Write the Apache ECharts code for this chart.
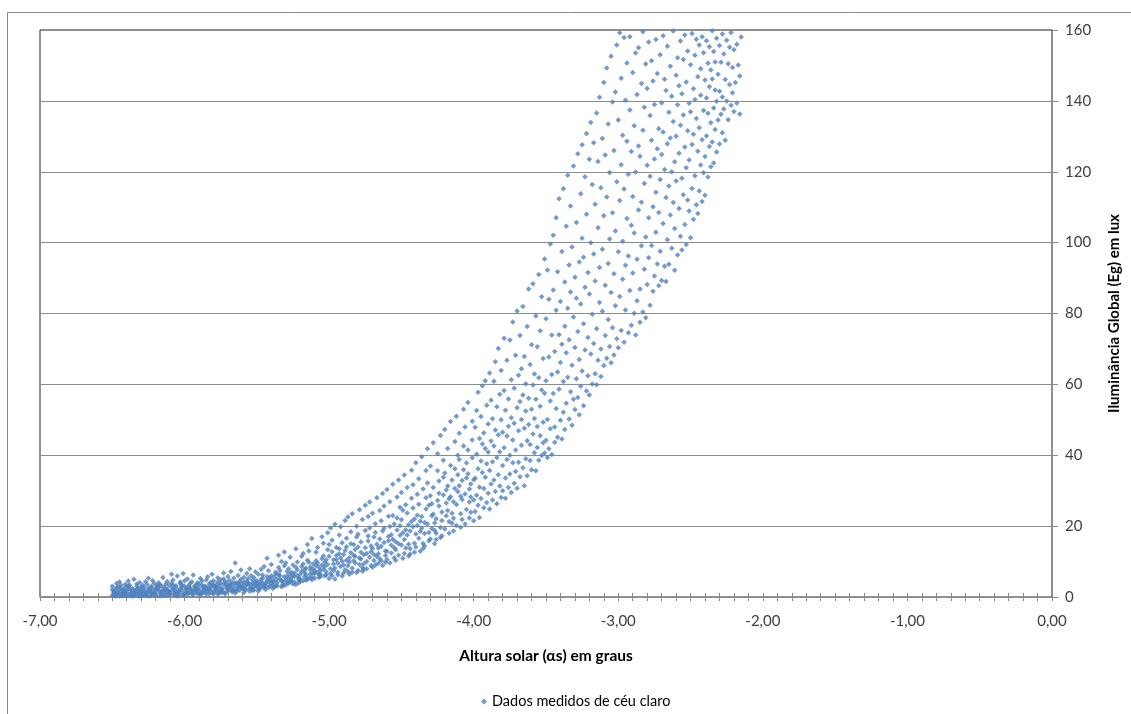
<!DOCTYPE html>
<html><head><meta charset="utf-8">
<script src="https://cdn.jsdelivr.net/npm/echarts@6/dist/echarts.min.js"></script>
<style>html,body{margin:0;padding:0;background:#fff}#c{width:1131px;height:714px}</style>
</head><body><div id="c"></div>
<script>
// Each entry: [altura solar (graus), [iluminâncias lidas (lux)]]
const faixaA = [
[-6.50,[0.4,2.1,3.0]],[-6.49,[1.2,0.8,1.6]],[-6.48,[0.2,1.0,1.9]],[-6.47,[2.6,3.8,0.6]],[-6.46,[1.4,2.9,1.1]],[-6.45,[0.3,4.2,2.2]],
[-6.44,[0.7,3.3,2.5]],[-6.43,[1.8,0.2,1.3]],[-6.42,[2.0,1.5,0.9]],[-6.41,[0.5,3.6,2.8]],[-6.40,[1.1,0.3,1.7]],[-6.39,[2.4,4.5,3.1]],
[-6.38,[0.6,2.7,3.4]],[-6.37,[1.9,0.4,1.2]],[-6.36,[2.3,1.4,0.2]],[-6.35,[0.8,5.0,2.0]],[-6.34,[1.6,0.5,1.0]],[-6.33,[3.0,2.2,3.7]],
[-6.32,[0.3,2.5,0.9]],[-6.31,[1.3,4.1,1.8]],[-6.30,[2.8,1.5,0.2]],[-6.29,[0.7,3.3,2.1]],[-6.28,[1.0,2.0,2.7]],[-6.27,[4.3,0.5,1.4]],
[-6.26,[0.4,3.5,1.1]],[-6.25,[1.7,2.4,5.3]],[-6.24,[2.1,0.3,1.6]],[-6.23,[0.9,3.0,2.6]],[-6.22,[1.3,0.6,4.6]],[-6.21,[3.8,2.2,1.0]],
[-6.20,[0.5,1.8,0.9]],[-6.19,[2.4,3.2,2.9]],[-6.18,[1.9,4.0,2.6]],[-6.17,[0.3,1.2,3.5]],[-6.16,[0.8,1.4,3.1]],[-6.15,[2.0,5.5,0.4]],
[-6.14,[2.7,0.6,1.9]],[-6.13,[1.1,3.7,2.3]],[-6.12,[0.4,2.1,4.4]],[-6.11,[3.3,1.5,0.9]],[-6.10,[1.6,0.7,1.2]],[-6.09,[2.8,3.9,6.4]],
[-6.08,[2.2,3.4,4.8]],[-6.07,[0.5,1.8,1.0]],[-6.06,[0.9,2.6,3.2]],[-6.05,[1.5,5.9,0.3]],[-6.04,[1.7,0.6,1.2]],[-6.03,[3.8,2.3,4.2]],
[-6.02,[2.9,2.0,3.5]],[-6.01,[1.0,0.5,6.6]],[-6.00,[0.8,4.6,3.0]],[-5.99,[2.5,1.4,2.1]],[-5.98,[1.5,0.7,5.1]],[-5.97,[3.3,2.7,1.1]],
[-5.96,[2.2,3.9,2.5]],[-5.95,[0.9,1.7,4.3]],[-5.94,[0.6,1.3,6.2]],[-5.93,[2.0,3.1,2.8]],[-5.92,[1.8,2.4,3.4]],[-5.91,[4.0,0.9,1.2]],
[-5.90,[2.6,3.7,1.9]],[-5.89,[1.1,5.2,0.7]],[-5.88,[1.0,4.5,3.3]],[-5.87,[2.9,2.2,1.6]],[-5.86,[3.1,2.0,1.4]],[-5.85,[0.8,4.8,2.6]],
[-5.84,[1.5,2.5,5.7]],[-5.83,[3.6,0.9,2.1]],[-5.82,[2.8,4.1,1.9]],[-5.81,[1.2,3.2,6.4]],[-5.80,[0.9,3.5,4.6]],[-5.79,[2.3,1.6,2.9]],
[-5.78,[1.8,2.7,3.4]],[-5.77,[4.2,0.8,5.4]],[-5.76,[3.0,2.2,1.1]],[-5.75,[1.5,4.9,3.8]],[-5.74,[2.4,1.3,2.0]],[-5.73,[5.1,3.6,6.8]],
[-5.72,[1.2,4.4,0.9]],[-5.71,[3.2,2.6,3.9]],[-5.70,[2.1,1.6,5.8]],[-5.69,[4.7,3.3,2.8]],[-5.68,[3.5,2.5,7.2]],[-5.67,[1.4,4.1,1.9]],
[-5.66,[2.0,5.3,3.0]],[-5.65,[3.9,1.1,9.6]],[-5.64,[1.6,4.0,2.3]],[-5.63,[2.8,6.1,3.6]],[-5.62,[3.3,1.9,4.4]],[-5.61,[5.0,2.7,7.6]],
[-5.60,[2.4,3.8,2.9]],[-5.59,[1.3,5.6,4.2]],[-5.58,[1.9,3.1,2.2]],[-5.57,[4.5,6.6,3.5]],[-5.56,[3.7,5.2,4.0]],[-5.55,[2.5,1.6,8.0]],
[-5.54,[2.6,3.3,6.0]],[-5.53,[4.8,1.8,3.9]],[-5.52,[2.0,5.5,2.8]],[-5.51,[3.6,4.3,7.1]]
];
const faixaB = [
[-5.50,[3.1,4.6,3.7]],[-5.49,[1.7,6.4,2.4]],[-5.48,[2.3,3.5,4.2]],[-5.47,[5.0,7.8,2.9]],[-5.46,[4.0,6.2,5.3]],[-5.45,[2.6,3.2,8.6]],
[-5.44,[3.3,2.1,3.9]],[-5.43,[4.7,5.8,10.9]],[-5.42,[2.7,4.2,7.4]],[-5.41,[5.4,3.1,4.8]],[-5.40,[3.8,6.0,9.2]],[-5.39,[2.4,4.5,3.3]],
[-5.38,[4.4,5.6,2.8]],[-5.37,[3.0,7.0,6.5]],[-5.36,[3.2,4.0,5.1]],[-5.35,[6.3,8.3,11.8]],[-5.34,[5.0,7.5,6.1]],[-5.33,[2.9,4.6,10.0]],
[-5.32,[3.6,4.3,3.1]],[-5.31,[5.7,8.8,12.7]],[-5.30,[4.8,3.4,9.6]],[-5.29,[7.2,5.9,4.1]],[-5.28,[3.9,5.2,8.0]],[-5.27,[6.5,4.4,11.2]],
[-5.26,[5.5,7.0,4.6]],[-5.25,[3.7,6.1,9.0]],[-5.24,[4.2,5.8,6.8]],[-5.23,[8.4,3.5,13.6]],[-5.22,[6.0,7.7,9.9]],[-5.21,[4.9,5.3,4.0]],
[-5.20,[5.1,4.4,6.4]],[-5.19,[7.3,11.5,8.6]],[-5.18,[4.6,9.3,12.3]],[-5.17,[6.9,5.7,7.8]],[-5.16,[6.3,8.1,4.7]],[-5.15,[5.0,10.4,14.8]],
[-5.14,[5.4,9.8,13.0]],[-5.13,[7.6,6.5,8.5]],[-5.12,[4.9,16.5,5.6]],[-5.11,[6.8,8.0,9.4]],[-5.10,[6.6,5.3,7.4]],[-5.09,[8.9,12.6,10.2]],
[-5.08,[7.0,9.6,14.0]],[-5.07,[5.5,6.2,8.3]],[-5.06,[5.8,7.5,6.4]],[-5.05,[10.8,9.0,17.0]],[-5.04,[7.8,11.6,15.2]],[-5.03,[6.0,8.6,9.8]],
[-5.02,[6.2,7.1,10.5]],[-5.01,[9.2,13.3,18.1]],[-5.00,[5.2,11.5,14.8]],[-4.99,[8.0,6.6,19.5]],[-4.98,[6.0,12.8,16.0]],[-4.97,[9.3,7.4,10.5]],
[-4.96,[5.1,8.2,20.5]],[-4.95,[10.6,14.0,11.7]],[-4.94,[7.0,9.5,6.3]],[-4.93,[12.2,17.5,13.6]],[-4.92,[8.6,11.0,19.8]],[-4.91,[5.9,15.3,10.1]],
[-4.90,[6.8,9.0,12.0]],[-4.89,[13.1,21.6,7.7]],[-4.88,[10.4,16.6,14.2]],[-4.87,[7.2,8.8,22.6]],[-4.86,[6.4,9.9,11.1]],[-4.85,[12.5,18.4,15.0]],
[-4.84,[8.1,7.0,23.5]],[-4.83,[14.8,11.8,10.2]],[-4.82,[9.6,13.4,11.5]],[-4.81,[6.9,20.0,16.9]],[-4.80,[7.5,17.7,14.1]],[-4.79,[11.0,9.2,24.6]],
[-4.78,[12.6,15.5,10.7]],[-4.77,[8.3,21.9,7.3]],[-4.76,[9.4,7.8,11.9]],[-4.75,[13.9,18.8,25.9]],[-4.74,[8.0,12.3,10.0]],[-4.73,[15.8,22.7,17.2]],
[-4.72,[11.2,19.5,26.8]],[-4.71,[8.9,14.4,12.8]],[-4.70,[13.7,8.4,23.6]],[-4.69,[10.3,16.9,12.0]],[-4.68,[9.0,20.7,18.2]],[-4.67,[14.9,11.4,28.0]],
[-4.66,[12.2,9.5,13.8]],[-4.65,[16.4,24.4,10.8]],[-4.64,[10.2,14.3,21.5]],[-4.63,[18.6,8.9,29.2]],[-4.62,[15.4,25.7,19.4]],[-4.61,[11.7,13.0,9.8]],
[-4.60,[12.9,10.6,30.3]],[-4.59,[17.1,22.8,15.9]],[-4.58,[9.6,19.9,26.9]],[-4.57,[14.6,12.4,17.6]],[-4.56,[16.3,23.0,31.8]],[-4.55,[11.1,13.9,20.6]],
[-4.54,[13.3,10.4,15.6]],[-4.53,[18.9,28.2,22.3]],[-4.52,[11.8,15.0,33.0]],[-4.51,[20.1,25.3,17.4]]
];
const faixaC = [
[-4.50,[14.7,21.8,29.5]],[-4.49,[10.9,18.1,24.5]],[-4.48,[12.3,16.2,34.4]],[-4.47,[19.0,26.0,13.8]],[-4.46,[17.5,23.7,30.9]],[-4.45,[11.6,20.4,14.9]],
[-4.44,[13.6,18.6,12.1]],[-4.43,[21.3,27.9,35.8]],[-4.42,[19.8,25.1,31.7]],[-4.41,[15.2,12.6,22.0]],[-4.40,[14.1,17.8,37.9]],[-4.39,[23.1,29.0,20.2]],
[-4.38,[16.6,26.2,33.4]],[-4.37,[12.9,21.4,18.5]],[-4.36,[22.7,19.4,39.6]],[-4.35,[15.1,30.5,13.7]],[-4.34,[17.9,14.4,21.0]],[-4.33,[24.8,28.0,35.7]],
[-4.32,[20.6,32.2,41.8]],[-4.31,[15.9,25.9,18.2]],[-4.30,[16.4,28.6,37.0]],[-4.29,[22.9,19.3,26.3]],[-4.28,[23.4,30.9,43.5]],[-4.27,[15.0,20.9,18.8]],
[-4.26,[18.0,22.1,16.2]],[-4.25,[27.2,35.6,40.4]],[-4.24,[25.7,32.7,29.3]],[-4.23,[19.6,16.8,45.6]],[-4.22,[21.6,17.3,24.0]],[-4.21,[28.8,38.6,33.8]],
[-4.20,[19.2,35.0,47.3]],[-4.19,[26.5,22.9,30.2]],[-4.18,[24.4,31.3,41.9]],[-4.17,[18.0,27.7,21.3]],[-4.16,[28.3,37.1,49.5]],[-4.15,[20.8,23.6,33.0]],
[-4.14,[22.2,18.6,26.9]],[-4.13,[30.6,43.9,36.2]],[-4.12,[26.1,20.2,51.0]],[-4.11,[34.5,29.8,40.0]],[-4.10,[31.4,38.8,46.2]],[-4.09,[23.5,19.7,28.4]],
[-4.08,[21.9,27.5,32.9]],[-4.07,[35.9,42.6,53.0]],[-4.06,[29.1,48.0,20.6]],[-4.05,[24.7,37.8,33.6]],[-4.04,[34.8,41.5,54.9]],[-4.03,[26.8,22.3,30.5]],
[-4.02,[23.9,31.9,28.2]],[-4.01,[39.3,49.6,44.3]],[-4.00,[27.4,21.5,33.1]],
[-3.99,[33.5,47.9,24.1]],[-3.98,[52.6,28.7,40.3]],[-3.97,[36.2,57.8,25.9]],[-3.96,[44.7,31.0,22.4]],[-3.95,[27.8,50.9,38.4]],[-3.94,[59.6,35.1,43.2]],
[-3.93,[30.6,46.3,25.2]],[-3.92,[41.9,61.0,33.8]],[-3.91,[26.7,37.6,54.1]],[-3.90,[48.8,29.3,40.9]],[-3.89,[35.7,63.2,24.8]],[-3.88,[44.0,31.9,55.5]],
[-3.87,[27.4,50.3,38.2]],[-3.86,[60.9,42.6,33.0]],[-3.85,[29.8,47.1,66.4]],[-3.84,[39.4,26.3,53.7]],[-3.83,[45.8,70.1,34.5]],[-3.82,[31.3,57.2,41.0]],
[-3.81,[50.0,28.1,63.9]],[-3.80,[37.1,46.5,30.0]],[-3.79,[58.3,42.1,73.0]],[-3.78,[33.6,52.7,27.9]],[-3.77,[45.4,66.8,38.8]],[-3.76,[30.9,55.9,48.2]],
[-3.75,[72.5,40.0,34.7]],[-3.74,[50.6,29.5,61.3]],[-3.73,[37.9,77.6,44.3]],[-3.72,[58.9,32.1,49.0]],[-3.71,[41.5,68.2,35.4]],[-3.70,[53.4,30.7,80.7]],
[-3.69,[46.9,62.6,38.0]],[-3.68,[33.9,55.2,73.8]],[-3.67,[64.4,42.8,50.1]],[-3.66,[36.5,82.0,57.0]],[-3.65,[47.6,31.4,67.9]],[-3.64,[60.2,39.0,52.5]],
[-3.63,[44.1,76.3,34.2]],[-3.62,[56.1,48.7,86.9]],[-3.61,[38.5,65.6,43.0]],[-3.60,[71.2,53.0,35.9]],[-3.59,[46.0,88.4,59.8]],[-3.58,[40.7,62.9,50.4]],
[-3.57,[79.3,35.6,55.8]],[-3.56,[48.1,70.6,42.2]],[-3.55,[61.9,38.6,91.0]],[-3.54,[53.8,45.5,75.1]],[-3.53,[39.9,84.7,58.4]],[-3.52,[67.3,49.3,43.5]],
[-3.51,[57.5,95.4,40.6]]
];
const faixaD = [
[-3.50,[44.2,78.5,61.0]],[-3.49,[92.3,50.1,39.4]],[-3.48,[67.7,41.8,84.0]],[-3.47,[55.3,99.6,47.5]],[-3.46,[73.9,40.2,62.8]],[-3.45,[102.1,57.4,86.6]],
[-3.44,[48.0,69.3,43.7]],[-3.43,[80.9,53.2,107.0]],[-3.42,[63.5,45.1,91.8]],[-3.41,[58.6,112.4,74.0]],[-3.40,[49.9,83.4,66.2]],[-3.39,[97.5,44.6,71.3]],
[-3.38,[60.8,115.2,52.1]],[-3.37,[76.4,88.9,47.3]],[-3.36,[54.7,104.6,68.9]],[-3.35,[119.0,62.0,81.5]],[-3.34,[50.2,93.7,72.6]],[-3.33,[86.1,57.9,110.3]],
[-3.32,[65.4,48.5,98.8]],[-3.31,[79.0,121.6,55.8]],[-3.30,[70.4,52.9,90.2]],[-3.29,[105.7,61.6,84.3]],[-3.28,[56.3,125.1,74.9]],[-3.27,[94.5,67.0,51.4]],
[-3.26,[82.7,113.8,59.5]],[-3.25,[63.8,101.2,127.6]],[-3.24,[77.1,54.0,95.9]],[-3.23,[118.6,69.7,87.4]],[-3.22,[58.1,108.0,130.8]],[-3.21,[91.6,73.2,62.4]],
[-3.20,[123.5,85.5,57.0]],[-3.19,[68.6,100.0,133.9]],[-3.18,[79.8,60.1,116.4]],[-3.17,[96.8,128.2,71.5]],[-3.16,[63.0,89.2,110.8]],[-3.15,[136.6,75.7,59.9]],
[-3.14,[104.2,66.8,122.9]],[-3.13,[83.1,141.0,93.0]],[-3.12,[70.0,115.5,62.2]],[-3.11,[129.4,98.1,80.6]],[-3.10,[65.3,145.2,107.6]],[-3.09,[88.0,73.8,124.7]],
[-3.08,[112.9,149.3,67.4]],[-3.07,[94.1,78.3,133.5]],[-3.06,[70.7,119.8,101.0]],[-3.05,[152.6,85.9,66.1]],[-3.04,[108.4,139.7,76.0]],[-3.03,[91.2,68.3,126.0]],
[-3.02,[142.5,103.3,82.2]],[-3.01,[72.9,117.2,155.8]],[-3.00,[97.4,134.6,70.3]],[-2.99,[84.8,159.2,111.9]],[-2.98,[122.0,75.2,146.4]],[-2.97,[100.4,130.3,89.7]],
[-2.96,[157.9,71.9,115.1]],[-2.95,[93.6,140.2,81.0]],[-2.94,[128.6,106.8,150.7]],[-2.93,[74.6,119.3,96.2]],[-2.92,[137.4,86.5,158.1]],[-2.91,[104.9,76.7,125.7]],
[-2.90,[148.0,113.0,91.4]],[-2.89,[80.1,133.0,102.7]],[-2.88,[119.9,153.5,73.9]],[-2.87,[95.3,83.6,141.8]],[-2.86,[155.0,109.2,127.3]],[-2.85,[86.9,124.4,77.5]],
[-2.84,[111.4,144.9,99.1]],[-2.83,[131.7,80.4,159.5]],[-2.82,[92.5,116.7,138.2]],[-2.81,[150.4,101.6,78.8]],[-2.80,[121.8,88.2,143.5]],[-2.79,[107.0,156.6,95.7]],
[-2.78,[135.9,82.3,118.7]],[-2.77,[99.2,128.9,151.3]],[-2.76,[145.6,110.1,86.3]],[-2.75,[90.6,139.0,123.6]],[-2.74,[157.3,102.9,114.2]],[-2.73,[126.5,94.0,147.7]],
[-2.72,[87.8,132.1,108.5]],[-2.71,[153.0,117.8,97.6]],[-2.70,[139.5,89.3,124.9]],[-2.69,[105.4,158.4,131.2]],[-2.68,[93.3,120.6,146.1]],[-2.67,[142.9,112.7,89.0]],
[-2.66,[127.9,155.4,100.8]],[-2.65,[116.0,93.9,136.8]],[-2.64,[149.8,107.8,129.5]],[-2.63,[98.4,141.3,120.0]],[-2.62,[134.2,159.7,111.3]],[-2.61,[104.0,122.8,92.2]],
[-2.60,[147.2,130.0,117.4]],[-2.59,[96.5,152.2,138.9]],[-2.58,[125.2,109.6,144.3]],[-2.57,[156.9,101.8,133.1]],[-2.56,[118.2,142.0,97.9]],[-2.55,[136.0,113.5,151.7]],
[-2.54,[105.1,158.6,127.0]],[-2.53,[145.3,121.1,99.5]],[-2.52,[131.6,154.1,112.0]],[-2.51,[108.9,139.3,123.3]]
];
const faixaE = [
[-2.50,[150.2,101.4,136.9]],[-2.49,[127.7,159.0,115.3]],[-2.48,[143.4,106.6,130.6]],[-2.47,[118.9,152.9,140.4]],[-2.46,[135.0,110.7,157.4]],[-2.45,[146.8,125.8,108.2]],
[-2.44,[114.6,155.8,132.4]],[-2.43,[141.6,121.9,149.1]],[-2.42,[129.0,158.1,111.6]],[-2.41,[153.6,137.3,119.7]],[-2.40,[124.3,145.9,113.4]],[-2.39,[140.8,157.0,130.1]],
[-2.38,[118.5,150.6,136.5]],[-2.37,[155.3,127.1,144.0]],[-2.36,[133.8,148.7,121.4]],[-2.35,[146.2,159.8,128.4]],[-2.34,[122.5,138.0,153.9]],[-2.33,[151.0,131.9,143.1]],
[-2.32,[139.9,157.7,125.6]],[-2.31,[147.5,134.6]],[-2.30,[127.8,155.6,142.7]],[-2.29,[150.9,136.2]],[-2.28,[141.1,158.9,131.0]],[-2.27,[153.2,137.7]],
[-2.26,[146.0,128.9]],[-2.25,[157.1,140.0]],[-2.24,[134.7,150.5]],[-2.23,[144.6,155.1]],[-2.22,[138.8,159.3]],[-2.21,[149.4,142.3]],
[-2.20,[154.4,137.0]],[-2.19,[145.2]],[-2.18,[139.4,156.0]],[-2.17,[150.1]],[-2.16,[136.3,147.0]],[-2.15,[158.0]]
];
const serieNome = 'Dados medidos de céu claro';
const tituloX = 'Altura solar (αs) em graus';
const tituloY = 'Iluminância Global (Eg) em lux';

const pontos = [];
[faixaA, faixaB, faixaC, faixaD, faixaE].forEach(f => f.forEach(([x, ys]) => ys.forEach(y => pontos.push([x, y]))));

const FONT = 'Lato, "Liberation Sans", Arial, sans-serif';
const GRAY = '#8c8c8c';
const chart = echarts.init(document.getElementById('c'), null, {renderer: 'canvas'});
chart.setOption({
  animation: false,
  backgroundColor: '#fff',
  textStyle: {fontFamily: FONT},
  graphic: [{type: 'rect', silent: true, z: -10,
    shape: {x: 7.5, y: 12.5, width: 1300, height: 900},
    style: {fill: 'none', stroke: '#8a8a8a', lineWidth: 1}}],
  grid: {left: 40, right: 79, top: 30, bottom: 117, show: true, borderColor: '#222', borderWidth: 1, backgroundColor: 'transparent'},
  xAxis: [{
    type: 'value', min: -7, max: 0, interval: 1, position: 'bottom',
    axisLine: {show: true, onZero: false, lineStyle: {color: GRAY}},
    axisTick: {show: true, length: 4, lineStyle: {color: GRAY}},
    minorTick: {show: true, splitNumber: 10, length: 4, lineStyle: {color: GRAY}},
    splitLine: {show: false},
    axisLabel: {margin: 17, color: '#404040', fontSize: 15, fontFamily: FONT,
      formatter: v => v.toFixed(2).replace('.', ',')},
    name: tituloX, nameLocation: 'middle', nameGap: 51,
    nameTextStyle: {fontWeight: 'bold', fontSize: 15.5, color: '#000', fontFamily: FONT}
  }, {
    type: 'value', min: -7, max: 0, interval: 1, position: 'bottom', offset: 0,
    axisLine: {show: false, onZero: false},
    axisTick: {show: true, inside: true, length: 4, lineStyle: {color: GRAY}},
    minorTick: {show: true, splitNumber: 10, length: 4, lineStyle: {color: GRAY}},
    splitLine: {show: false}, axisLabel: {show: false}
  }],
  yAxis: {
    type: 'value', position: 'right', min: 0, max: 160, interval: 20,
    axisLine: {show: true, lineStyle: {color: GRAY}},
    axisTick: {show: true, length: 6, lineStyle: {color: GRAY}},
    splitLine: {show: true, showMaxLine: false, lineStyle: {color: GRAY}},
    axisLabel: {margin: 13, color: '#404040', fontSize: 15, fontFamily: FONT},
    name: tituloY, nameLocation: 'middle', nameRotate: 90, nameGap: 55,
    nameTextStyle: {fontWeight: 'bold', fontSize: 15, color: '#000', fontFamily: FONT}
  },
  legend: {left: 476, top: 689, icon: 'diamond', itemWidth: 6, itemHeight: 6, itemGap: 10,
    textStyle: {fontSize: 14.5, color: '#000', fontFamily: FONT}, data: [serieNome]},
  series: [{type: 'scatter', name: serieNome, data: pontos, xAxisIndex: 0, yAxisIndex: 0,
    symbol: 'diamond', symbolSize: 5.5, itemStyle: {color: '#4F81BD'}, clip: true}]
});
</script></body></html>
